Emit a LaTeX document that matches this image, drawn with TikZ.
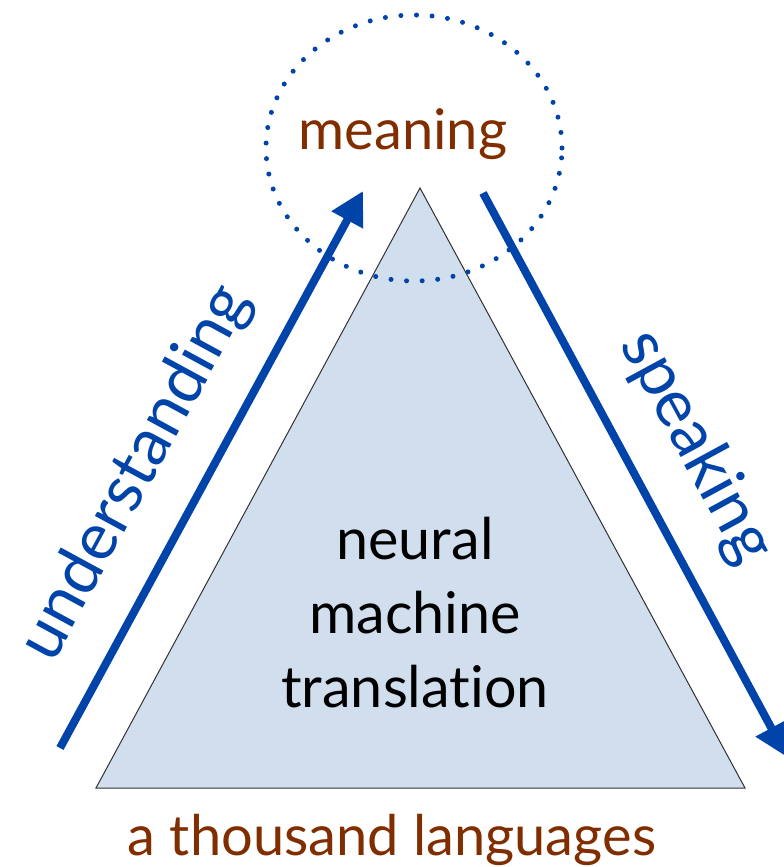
\documentclass[tikz,border=0pt]{standalone}
\usepackage{fontspec}
\setmainfont{Lato}[RawFeature=-liga]
\usetikzlibrary{arrows.meta}
\definecolor{arrowblue}{RGB}{0,68,170}
\definecolor{wordbrown}{RGB}{128,45,0}
\definecolor{trifill}{RGB}{208,222,238}
\tikzset{
  flow/.style={arrowblue, line width=8pt, -{Triangle[length=33pt,width=34pt]}},
  brownword/.style={text=wordbrown, font=\fontsize{56}{66}\selectfont, inner sep=0pt},
  blueword/.style={text=arrowblue, font=\fontsize{66}{70}\selectfont, inner sep=0pt},
  centerword/.style={text=black, font=\fontsize{57.5}{74}\selectfont, align=center, inner sep=0pt},
  dotring/.style={draw=arrowblue, line width=5pt, dash pattern=on 0pt off 15.6pt, line cap=round},
}
\begin{document}
\begin{tikzpicture}[x=1pt,y=-1pt]
\useasboundingbox (0,0) rectangle (784,867);
\clip (0,0) rectangle (784,867);
% the triangle
\coordinate (apex) at (420,188);
\coordinate (bl) at (96,788);
\coordinate (br) at (745,788);
\draw[fill=trifill, draw=black!80, line width=1pt] (apex) -- (br) -- (bl) -- cycle;
% dotted ring around the top word
\coordinate (ringc) at (414,148);
\draw[dotring] (ringc) ellipse [x radius=148pt, y radius=133pt];
\node[brownword, anchor=base] (meaning) at (403,149) {meaning};
% the two arrows
\coordinate (uStart) at (60,748);
\coordinate (uEnd) at (363,191);
\coordinate (sStart) at (483,193);
\coordinate (sEnd) at (787,757);
\draw[flow] (uStart) -- (uEnd);
\draw[flow] (sStart) -- (sEnd);
% labels
\node[blueword, rotate=61.5] (understanding) at (136,473) {understanding};
\node[blueword, rotate=-61.5] (speaking) at (696,447) {speaking};
\node[centerword] (nmt) at (415,613) {neural\\machine\\translation};
\node[brownword, anchor=base] (langs) at (392,855) {a thousand languages};
\end{tikzpicture}
\end{document}
